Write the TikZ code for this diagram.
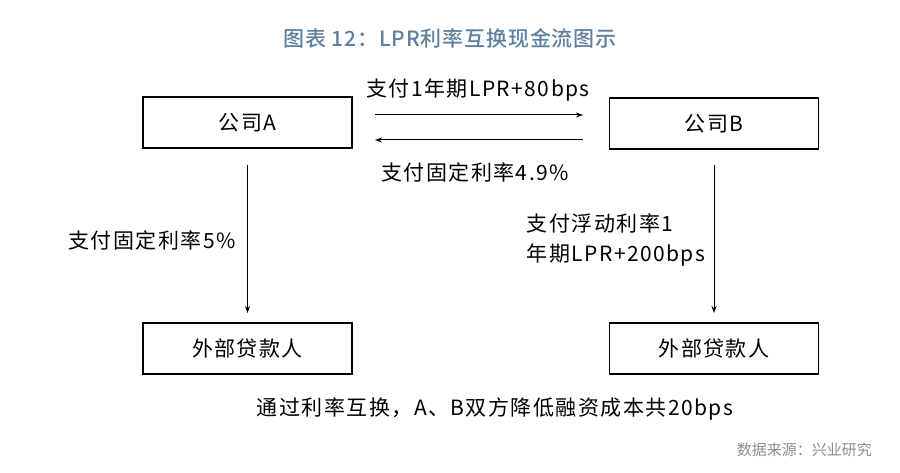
\documentclass[tikz,border=0pt]{standalone}
\usepackage{fontspec}
\setmainfont{Noto Sans CJK SC}
\newfontfamily\spaced[LetterSpace=7]{Noto Sans CJK SC}
\newfontfamily\titlef[LetterSpace=4]{Noto Sans CJK SC Medium}
\usetikzlibrary{arrows.meta}
\definecolor{titleblue}{HTML}{5F7F9F}
\definecolor{srcgray}{HTML}{8C8C8C}
\tikzset{
  box/.style={draw,line width=1.2pt,minimum width=209pt,minimum height=51pt,inner sep=0pt,font=\spaced\fontsize{21}{24}\selectfont},
  lbl/.style={font=\spaced\fontsize{21}{30}\selectfont,inner sep=0pt},
  arr/.style={-{Stealth[length=7pt,width=5pt]},line width=1pt}
}
\begin{document}
\begin{tikzpicture}[x=1pt,y=-1pt]
\useasboundingbox (0,0) rectangle (900,473);
\node[font=\titlef\fontsize{21}{24}\selectfont,text=titleblue] (title) at (450,38) {图表 12：LPR利率互换现金流图示};
\node[box] (A) at (247.5,122.5) {公司A};
\node[box] (B) at (714,123.5) {公司B};
\node[box] (LA) at (247.5,348.5) {外部贷款人};
\node[box] (LB) at (714,348.5) {外部贷款人};
\coordinate (t1) at (375,115); \coordinate (t2) at (583,115);
\coordinate (b1) at (583,140); \coordinate (b2) at (375,140);
\draw[arr] (t1) -- (t2);
\draw[arr] (b1) -- (b2);
\draw[arr] (A.south |- 0,165) -- (LA.north |- 0,313);
\draw[arr] (B.south |- 0,165) -- (LB.north |- 0,313);
\node[lbl] (l1) at (478,90) {支付1年期LPR+80bps};
\node[lbl] (l2) at (475,172) {支付固定利率4.9\%};
\node[lbl] (l3) at (152,240) {支付固定利率5\%};
\node[lbl,align=left] (l4) at (616,240) {支付浮动利率1\\年期LPR+200bps};
\node[lbl] (note) at (495,409) {通过利率互换，A、B双方降低融资成本共20bps};
\node[font=\fontsize{15}{17}\selectfont,text=srcgray,anchor=east,inner sep=0pt] (src) at (872,450) {数据来源：兴业研究};
\end{tikzpicture}
\end{document}
